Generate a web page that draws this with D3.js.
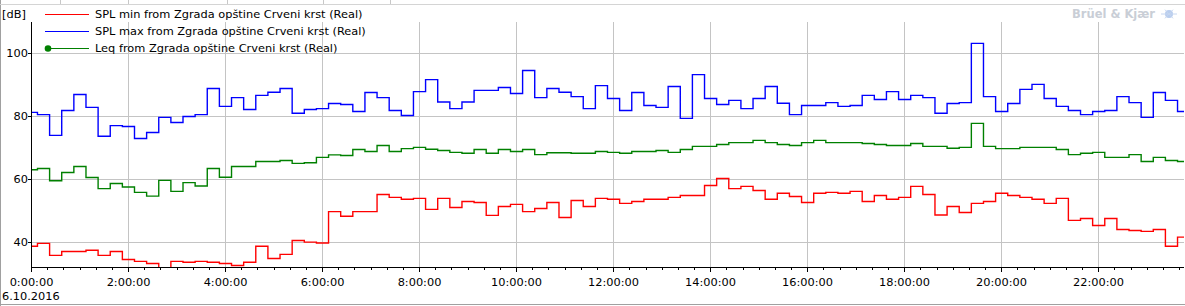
<!DOCTYPE html>
<html>
<head>
<meta charset="utf-8">
<script src="https://cdn.jsdelivr.net/npm/d3@7"></script>
<style>
  html, body { margin: 0; padding: 0; background: #fff; }
  svg { display: block; }
  text { font-family: "DejaVu Sans", Verdana, sans-serif; }
</style>
</head>
<body>
<svg id="chart" width="1185" height="306"></svg>
<script>
// 15 minute levels, 6.10.2016 (first interval starts 23:53 the day before)
const seriesNames = [
  "SPL min from Zgrada opštine Crveni krst (Real)",
  "SPL max from Zgrada opštine Crveni krst (Real)",
  "Leq from Zgrada opštine Crveni krst (Real)"
];
const seriesColors = ["#ff0000", "#0000ff", "#008000"];
const yTicks = [40, 60, 80, 100];
const startTime = new Date(2016, 9, 5, 23, 53);
const stepMinutes = 15;

const splMin = [
  38.8, 39.7, 35.9, 37.1, 37.1, 37.5, 35.9, 37.1, 34.6, 34.0, 33.3, 31.5,
  34.0, 33.7, 34.0, 33.7, 33.3, 32.7, 33.7, 38.8, 34.9, 36.2, 40.6, 40.1,
  39.8, 49.8, 48.3, 49.8, 49.8, 55.2, 54.3, 53.7, 54.0, 50.5, 54.0, 51.1,
  53.0, 52.7, 48.6, 51.4, 52.1, 49.8, 50.8, 52.7, 47.9, 53.3, 51.4, 54.0,
  53.7, 52.4, 53.0, 53.7, 53.7, 54.3, 54.9, 54.9, 58.1, 60.3, 57.1, 57.8,
  56.5, 53.7, 55.6, 54.6, 52.7, 55.6, 55.9, 55.6, 56.2, 53.0, 54.9, 53.7,
  54.3, 57.8, 55.2, 48.7, 51.4, 49.5, 52.4, 53.0, 55.6, 54.9, 54.3, 53.7,
  52.4, 54.0, 47.0, 47.6, 45.4, 47.6, 44.1, 43.8, 43.5, 44.1, 38.8, 41.7
];
const splMax = [
  81.3, 80.6, 74.0, 81.9, 87.0, 82.9, 73.7, 77.1, 76.8, 73.0, 74.9, 79.7,
  78.1, 80.0, 80.6, 88.9, 83.2, 86.0, 82.2, 86.7, 87.7, 88.9, 81.0, 82.2,
  82.5, 84.1, 83.8, 81.6, 87.6, 86.0, 81.9, 80.3, 87.9, 91.7, 84.6, 82.5,
  84.6, 88.3, 88.3, 89.2, 87.3, 94.6, 86.0, 88.9, 87.7, 86.3, 82.5, 89.8,
  85.7, 81.9, 87.6, 83.5, 82.9, 89.5, 79.4, 93.3, 85.7, 83.8, 85.1, 82.5,
  85.7, 89.5, 84.2, 80.6, 83.5, 83.5, 84.4, 83.2, 83.5, 86.7, 85.4, 87.9,
  85.4, 86.7, 86.0, 81.0, 84.1, 84.4, 103.2, 86.3, 81.6, 84.1, 88.6, 90.2,
  85.7, 83.2, 81.9, 80.6, 81.6, 81.9, 86.3, 84.4, 79.7, 87.6, 85.1, 81.6
];
const leq = [
  63.1, 63.5, 59.6, 62.2, 64.1, 60.6, 57.1, 58.7, 57.6, 55.9, 54.7, 59.7,
  56.2, 59.0, 57.9, 63.5, 60.7, 64.1, 64.1, 65.7, 65.7, 66.0, 65.1, 65.3,
  67.0, 67.8, 67.6, 69.5, 68.9, 70.8, 68.9, 69.8, 70.2, 69.6, 69.2, 68.6,
  68.3, 69.5, 68.3, 69.5, 68.9, 69.5, 67.9, 68.5, 68.5, 68.3, 68.3, 68.9,
  68.6, 68.3, 68.9, 68.9, 69.2, 68.6, 69.5, 70.5, 70.5, 71.1, 71.7, 71.7,
  72.4, 71.7, 71.1, 70.8, 71.7, 72.4, 71.7, 71.7, 71.7, 71.4, 71.1, 70.8,
  70.8, 71.4, 70.5, 70.5, 69.9, 70.2, 77.8, 70.5, 69.8, 69.8, 70.2, 70.2,
  70.2, 69.5, 67.9, 68.3, 68.6, 67.0, 67.0, 67.9, 65.7, 67.0, 66.0, 65.7
];

const LEFT = 31, RIGHT = 1184, TOP = 22, BOTTOM = 267;
const FONT = 11.35;

const x = d3.scaleTime()
  .domain([new Date(2016, 9, 6, 0, 0), new Date(2016, 9, 6, 23, 46)])
  .range([LEFT, RIGHT]);
const y = d3.scaleLinear()
  .domain([32.2, 110])
  .range([BOTTOM, TOP]);

const svg = d3.select("#chart");

// frame bits (panel borders)
svg.append("line").attr("x1", 0.5).attr("x2", 0.5).attr("y1", 0).attr("y2", 306)
  .style("stroke", "#a0a0a0").style("stroke-width", 1);
svg.append("line").attr("x1", 0).attr("x2", 1185).attr("y1", 4.5).attr("y2", 4.5)
  .style("stroke", "#d4d4d4").style("stroke-width", 1);
svg.append("line").attr("x1", 0).attr("x2", 1185).attr("y1", 304.5).attr("y2", 304.5)
  .style("stroke", "#a0a0a0").style("stroke-width", 1);
[60, 128, 227, 323, 390].forEach(function (px) {
  svg.append("line").attr("x1", px + 0.5).attr("x2", px + 0.5).attr("y1", 0).attr("y2", 4)
    .style("stroke", "#c8c8c8");
});

// grid
let grid = svg.append("g");
const majorTicks = x.ticks(d3.timeHour.every(2));
majorTicks.forEach(function (t) {
  if (+t === +x.domain()[0]) return;
  grid.append("line")
    .attr("x1", Math.round(x(t)) + 0.5).attr("x2", Math.round(x(t)) + 0.5)
    .attr("y1", TOP).attr("y2", BOTTOM)
    .style("stroke", "#c4c4c4").style("stroke-width", 1);
});
yTicks.forEach(function (v) {
  grid.append("line")
    .attr("x1", LEFT).attr("x2", RIGHT)
    .attr("y1", Math.round(y(v)) + 0.5).attr("y2", Math.round(y(v)) + 0.5)
    .style("stroke", "#c4c4c4").style("stroke-width", 1);
});

// series
svg.append("clipPath").attr("id", "plot")
  .append("rect").attr("x", LEFT).attr("y", TOP)
  .attr("width", RIGHT - LEFT).attr("height", BOTTOM - TOP);

function toPoints(values) {
  let pts = values.map(function (v, i) {
    return { t: new Date(+startTime + i * stepMinutes * 60000), v: v };
  });
  pts.push({ t: x.domain()[1], v: values[values.length - 1] });
  return pts;
}

const line = d3.line()
  .x(d => x(d.t))
  .y(d => y(d.v))
  .curve(d3.curveStepAfter);

const series = [splMin, splMax, leq];
let plot = svg.append("g").attr("clip-path", "url(#plot)");
series.forEach(function (values, i) {
  plot.append("path")
    .datum(toPoints(values))
    .attr("d", line)
    .style("fill", "none")
    .style("stroke", seriesColors[i])
    .style("stroke-width", 1.4);
});

// axes
let axes = svg.append("g");
axes.append("line").attr("x1", LEFT + 0.5).attr("x2", LEFT + 0.5)
  .attr("y1", TOP).attr("y2", BOTTOM + 1)
  .style("stroke", "#000").style("stroke-width", 1);
axes.append("line").attr("x1", LEFT).attr("x2", RIGHT)
  .attr("y1", BOTTOM + 0.5).attr("y2", BOTTOM + 0.5)
  .style("stroke", "#000").style("stroke-width", 1);

yTicks.forEach(function (v) {
  let py = Math.round(y(v)) + 0.5;
  axes.append("line").attr("x1", LEFT - 3).attr("x2", LEFT)
    .attr("y1", py).attr("y2", py).style("stroke", "#000");
  axes.append("text")
    .attr("x", LEFT - 3).attr("y", py)
    .attr("dy", "0.35em")
    .attr("text-anchor", "end")
    .style("font-size", FONT + "px")
    .style("fill", "#000")
    .text(v);
});

x.ticks(d3.timeMinute.every(20)).forEach(function (t) {
  let px = Math.round(x(t)) + 0.5;
  axes.append("line").attr("x1", px).attr("x2", px)
    .attr("y1", BOTTOM).attr("y2", BOTTOM + 3).style("stroke", "#000");
});

const fmt = d3.timeFormat("%-H:%M:%S");
majorTicks.forEach(function (t) {
  let px = Math.round(x(t)) + 0.5;
  axes.append("line").attr("x1", px).attr("x2", px)
    .attr("y1", BOTTOM).attr("y2", BOTTOM + 5).style("stroke", "#000");
  axes.append("text")
    .attr("x", px).attr("y", 282)
    .attr("dy", "0.35em")
    .attr("text-anchor", "middle")
    .style("font-size", FONT + "px")
    .style("fill", "#000")
    .text(fmt(t));
});

axes.append("text")
  .attr("x", 2).attr("y", 296).attr("dy", "0.35em")
  .style("font-size", FONT + "px").style("fill", "#000")
  .text(d3.timeFormat("%-d.%m.%Y")(x.domain()[0]));

axes.append("text")
  .attr("x", 2).attr("y", 14).attr("dy", "0.35em")
  .style("font-size", FONT + "px").style("fill", "#000")
  .text("[dB]");

// legend
let legend = svg.append("g");
const legendY = [14, 31, 48];
seriesNames.forEach(function (name, i) {
  let ly = legendY[i] + 0.5;
  legend.append("line")
    .attr("x1", 45).attr("x2", 89).attr("y1", ly).attr("y2", ly)
    .style("stroke", seriesColors[i]).style("stroke-width", 1);
  if (i === 2) {
    legend.append("circle").attr("cx", 48).attr("cy", ly).attr("r", 3.3)
      .style("fill", seriesColors[i]);
  }
  legend.append("text")
    .attr("x", 95).attr("y", ly).attr("dy", "0.35em")
    .style("font-size", FONT + "px").style("fill", "#000")
    .text(name);
});

// logo
let logo = svg.append("g");
logo.append("text")
  .attr("x", 1155).attr("y", 14).attr("dy", "0.35em")
  .attr("text-anchor", "end")
  .style("font-size", "11.5px").style("font-weight", "bold")
  .style("fill", "#c9ced6")
  .text("Brüel & Kjær");
logo.append("circle").attr("cx", 1169).attr("cy", 14).attr("r", 4)
  .style("fill", "#b8cdee");
for (let a = 0; a < 6; a++) {
  let ang = a * Math.PI / 3;
  logo.append("line")
    .attr("x1", 1169).attr("y1", 14)
    .attr("x2", 1169 + 8 * Math.cos(ang)).attr("y2", 14 + 5 * Math.sin(ang))
    .style("stroke", "#c6d6f0").style("stroke-width", 1);
}
</script>
</body>
</html>
